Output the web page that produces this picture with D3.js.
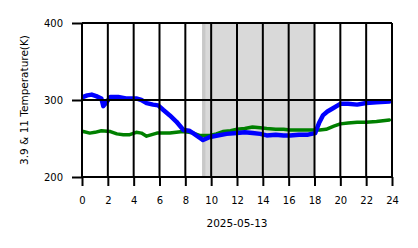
<!DOCTYPE html>
<html>
<head>
<meta charset="utf-8">
<script src="https://cdn.jsdelivr.net/npm/d3@7"></script>
<style>
  body { margin: 0; background: #fff; }
  text { font-family: "DejaVu Sans", sans-serif; fill: #000; }
</style>
</head>
<body>
<div id="vis"></div>
<script>
// hours of the day for each reading
const blueHours = [0.1, 0.4, 0.75, 1.1, 1.5, 1.65, 1.9, 2.2, 2.8, 3.4, 4.2, 4.6, 5.0, 5.5, 5.9, 6.3, 6.8, 7.3, 7.85, 8.3, 8.6, 9.1, 9.37, 9.9, 10.5, 11.2, 12.0, 12.6, 13.2, 13.8, 14.3, 15.0, 15.6, 16.1, 16.8, 17.5, 18.05, 18.35, 18.65, 19.0, 19.4, 20.0, 20.6, 21.3, 22.0, 22.8, 23.8]
const blueTemps = [304, 306, 307, 305, 302, 292, 297, 304, 304, 302, 302, 300, 296, 294, 293, 287, 280, 272, 261, 260, 257, 251, 248, 252, 254, 256, 257, 258, 257, 256, 254, 255, 254, 254, 255, 255, 257, 270, 280, 285, 289, 295, 295, 294, 296, 297, 298]

const greenHours = [0.1, 0.6, 1.0, 1.5, 2.2, 2.7, 3.2, 3.7, 4.2, 4.6, 5.0, 5.4, 5.8, 6.3, 6.8, 7.3, 7.8, 8.3, 8.6, 9.1, 9.9, 10.4, 10.9, 11.5, 12.0, 12.6, 13.2, 13.8, 14.3, 15.0, 15.6, 16.1, 17.0, 17.9, 18.4, 18.9, 19.5, 20.0, 20.6, 21.3, 22.0, 22.8, 23.8]
const greenTemps = [259, 257, 258, 260, 259, 256, 255, 255, 258, 257, 253, 255, 257, 257, 257, 258, 259, 258, 257, 254, 254, 256, 259, 260, 262, 263, 265, 264, 263, 262, 262, 261, 261, 261, 261, 262, 266, 269, 270, 271, 271, 272, 274]

const xTicks = [0, 2, 4, 6, 8, 10, 12, 14, 16, 18, 20, 22, 24]
const yTicks = [200, 300, 400]
const nightSpan = [9.3, 18]
const edgeSpan = [9.3, 9.55]

const margin = {top: 23, right: 26, bottom: 71, left: 82};
const width = 418 - margin.left - margin.right;
const height = 248 - margin.top - margin.bottom;

const svg = d3.select('#vis')
    .append('svg')
    .attr('width', 418)
    .attr('height', 248)
    .append('g')
    .attr('transform', `translate(${margin.left},${margin.top})`);

let xScale = d3.scaleLinear().domain([0, 24]).range([0, width]);
let yScale = d3.scaleLinear().domain([200, 400]).range([height, 0]);

// shaded span
svg.append('rect')
    .attr('x', xScale(nightSpan[0]))
    .attr('y', 0)
    .attr('width', xScale(nightSpan[1]) - xScale(nightSpan[0]))
    .attr('height', height)
    .attr('fill', '#d9d9d9')
svg.append('rect')
    .attr('x', xScale(edgeSpan[0]))
    .attr('y', 0)
    .attr('width', xScale(edgeSpan[1]) - xScale(edgeSpan[0]))
    .attr('height', height)
    .attr('fill', '#c8c8c8')

const line = d3.line()
    .x(d => xScale(d[0]))
    .y(d => yScale(d[1]))

const greenData = greenHours.map((h, i) => [h, greenTemps[i]])
const blueData = blueHours.map((h, i) => [h, blueTemps[i]])

svg.append('path')
    .datum(greenData)
    .attr('d', line)
    .attr('fill', 'none')
    .attr('stroke', '#008000')
    .attr('stroke-width', 3.5)
    .attr('stroke-linejoin', 'round')
    .attr('stroke-linecap', 'round')

svg.append('path')
    .datum(blueData)
    .attr('d', line)
    .attr('fill', 'none')
    .attr('stroke', '#0000ff')
    .attr('stroke-width', 4.5)
    .attr('stroke-linejoin', 'round')
    .attr('stroke-linecap', 'round')

// gridlines sit on top of the data
svg.selectAll('.vgrid')
    .data(xTicks)
    .enter()
    .append('line')
    .attr('x1', d => xScale(d)).attr('x2', d => xScale(d))
    .attr('y1', 0).attr('y2', height)
    .attr('stroke', '#000').attr('stroke-width', 2)
svg.selectAll('.hgrid')
    .data(yTicks)
    .enter()
    .append('line')
    .attr('x1', 0).attr('x2', width)
    .attr('y1', d => yScale(d)).attr('y2', d => yScale(d))
    .attr('stroke', '#000').attr('stroke-width', 2)

let xAxis = svg.append('g')
    .attr('transform', `translate(0,${height})`)
    .call(d3.axisBottom(xScale).tickValues(xTicks).tickSize(9).tickPadding(11).tickFormat(d3.format('d')))
let yAxis = svg.append('g')
    .call(d3.axisLeft(yScale).tickValues(yTicks).tickSize(10).tickPadding(9))

svg.selectAll('.domain').remove()
svg.selectAll('.tick line').attr('stroke', '#000').attr('stroke-width', 2)
svg.selectAll('.tick text').style('font-size', '10px')

svg.append('text')
    .attr('x', width / 2)
    .attr('y', height + 50)
    .attr('text-anchor', 'middle')
    .style('font-size', '10.5px')
    .text('2025-05-13')

svg.append('text')
    .attr('transform', 'rotate(-90)')
    .attr('x', -height / 2)
    .attr('y', -margin.left + 28)
    .attr('text-anchor', 'middle')
    .style('font-size', '10.5px')
    .text('3.9 & 11 Temperature(K)')
</script>
</body>
</html>
